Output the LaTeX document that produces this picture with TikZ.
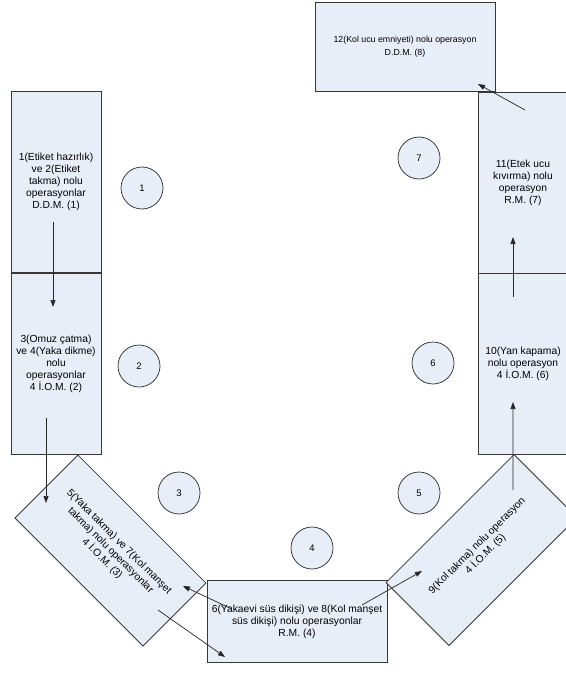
\documentclass[tikz,border=0pt]{standalone}
\usepackage{fontspec}
\setmainfont{Liberation Sans}
\usetikzlibrary{arrows.meta,calc}
\definecolor{boxfill}{RGB}{232,238,248}
\definecolor{edgegray}{RGB}{55,55,55}
\begin{document}
\begin{tikzpicture}[x=1bp,y=-1bp,
  opbox/.style={draw=edgegray,fill=boxfill,line width=0.8bp,inner sep=0pt,
    align=center,font=\fontsize{10.3bp}{12bp}\selectfont},
  tallbox/.style={opbox,minimum width=90bp,minimum height=181bp},
  widebox/.style={opbox,minimum width=181bp,minimum height=89bp},
  stagecirc/.style={circle,draw=black!85,fill=boxfill,line width=0.7bp,
    minimum size=42bp,inner sep=0pt,font=\fontsize{9.5bp}{11bp}\selectfont},
  flow/.style={draw=black!85,line width=0.7bp,-{Triangle[length=7bp,width=5bp]}}]
\useasboundingbox (0,0) rectangle (566,675);

% operation boxes
\node[tallbox] (b1) at (56,182) {1(Etiket hazırlık)\\ve 2(Etiket\\takma) nolu\\operasyonlar\\D.D.M. (1)};
\node[tallbox] (b2) at (56,363.5) {3(Omuz çatma)\\ve 4(Yaka dikme)\\nolu\\operasyonlar\\4 İ.O.M. (2)};
\node[widebox,rotate=-45] (b3) at (110.5,550.5) {5(Yaka takma) ve 7(Kol manşet\\takma) nolu operasyonlar\\4 İ.O.M. (3)};
\node[opbox,minimum width=180bp,minimum height=82bp] (b4) at (297,621.5) {6(Yakaevi süs dikişi) ve 8(Kol manşet\\süs dikişi) nolu operasyonlar\\R.M. (4)};
\node[widebox,rotate=45] (b5) at (481.5,550) {9(Kol takma) nolu operasyon\\4 İ.O.M. (5)};
\node[tallbox] (b6) at (523,363.5) {10(Yan kapama)\\nolu operasyon\\4 İ.O.M. (6)};
\node[tallbox] (b7) at (523,182.5) {11(Etek ucu\\kıvırma) nolu\\operasyon\\R.M. (7)};
\node[opbox,minimum width=180bp,minimum height=89bp,
  font=\fontsize{8.8bp}{13bp}\selectfont] (b8) at (405,46.5) {12(Kol ucu emniyeti) nolu operasyon\\D.D.M. (8)};

% stage numbers
\node[stagecirc] (c1) at (142,188) {1};
\node[stagecirc] (c2) at (139,366) {2};
\node[stagecirc] (c3) at (179,493) {3};
\node[stagecirc] (c4) at (312,548) {4};
\node[stagecirc] (c5) at (419,493) {5};
\node[stagecirc] (c6) at (433,363) {6};
\node[stagecirc] (c7) at (419,158) {7};

% arrow end points inside the boxes
\coordinate (p12) at ($(b1.center)+(-3,40)$);
\coordinate (q12) at ($(b2.center)+(-3,-56.5)$);
\coordinate (p23) at ($(b2.center)+(-10,54.5)$);
\coordinate (q23) at ($(b3.center)+(-64.5,-47.5)$);
\coordinate (p43) at ($(b4.center)+(-65,-12.5)$);
\coordinate (q43) at ($(b3.center)+(72.5,35.5)$);
\coordinate (p34) at ($(b3.center)+(47.5,59.5)$);
\coordinate (q34) at ($(b4.center)+(-72,35.5)$);
\coordinate (p45) at ($(b4.center)+(65,-16.5)$);
\coordinate (q45) at ($(b5.center)+(-59.5,21)$);
\coordinate (p56) at ($(b5.center)+(31.5,-60)$);
\coordinate (q56) at ($(b6.center)+(-10,38.5)$);
\coordinate (p67) at ($(b6.center)+(-10,-66.5)$);
\coordinate (q67) at ($(b7.center)+(-10,54.5)$);
\coordinate (p78) at ($(b7.center)+(2,-72.5)$);
\coordinate (q78) at ($(b8.center)+(73,37.5)$);

% material flow
\draw[flow] (p12) -- (q12);
\draw[flow] (p23) -- (q23);
\draw[flow] (p43) -- (q43);
\draw[flow] (p34) -- (q34);
\draw[flow] (p45) -- (q45);
\draw[flow] (p56) -- (q56);
\draw[flow] (p67) -- (q67);
\draw[flow] (p78) -- (q78);
\end{tikzpicture}
\end{document}
